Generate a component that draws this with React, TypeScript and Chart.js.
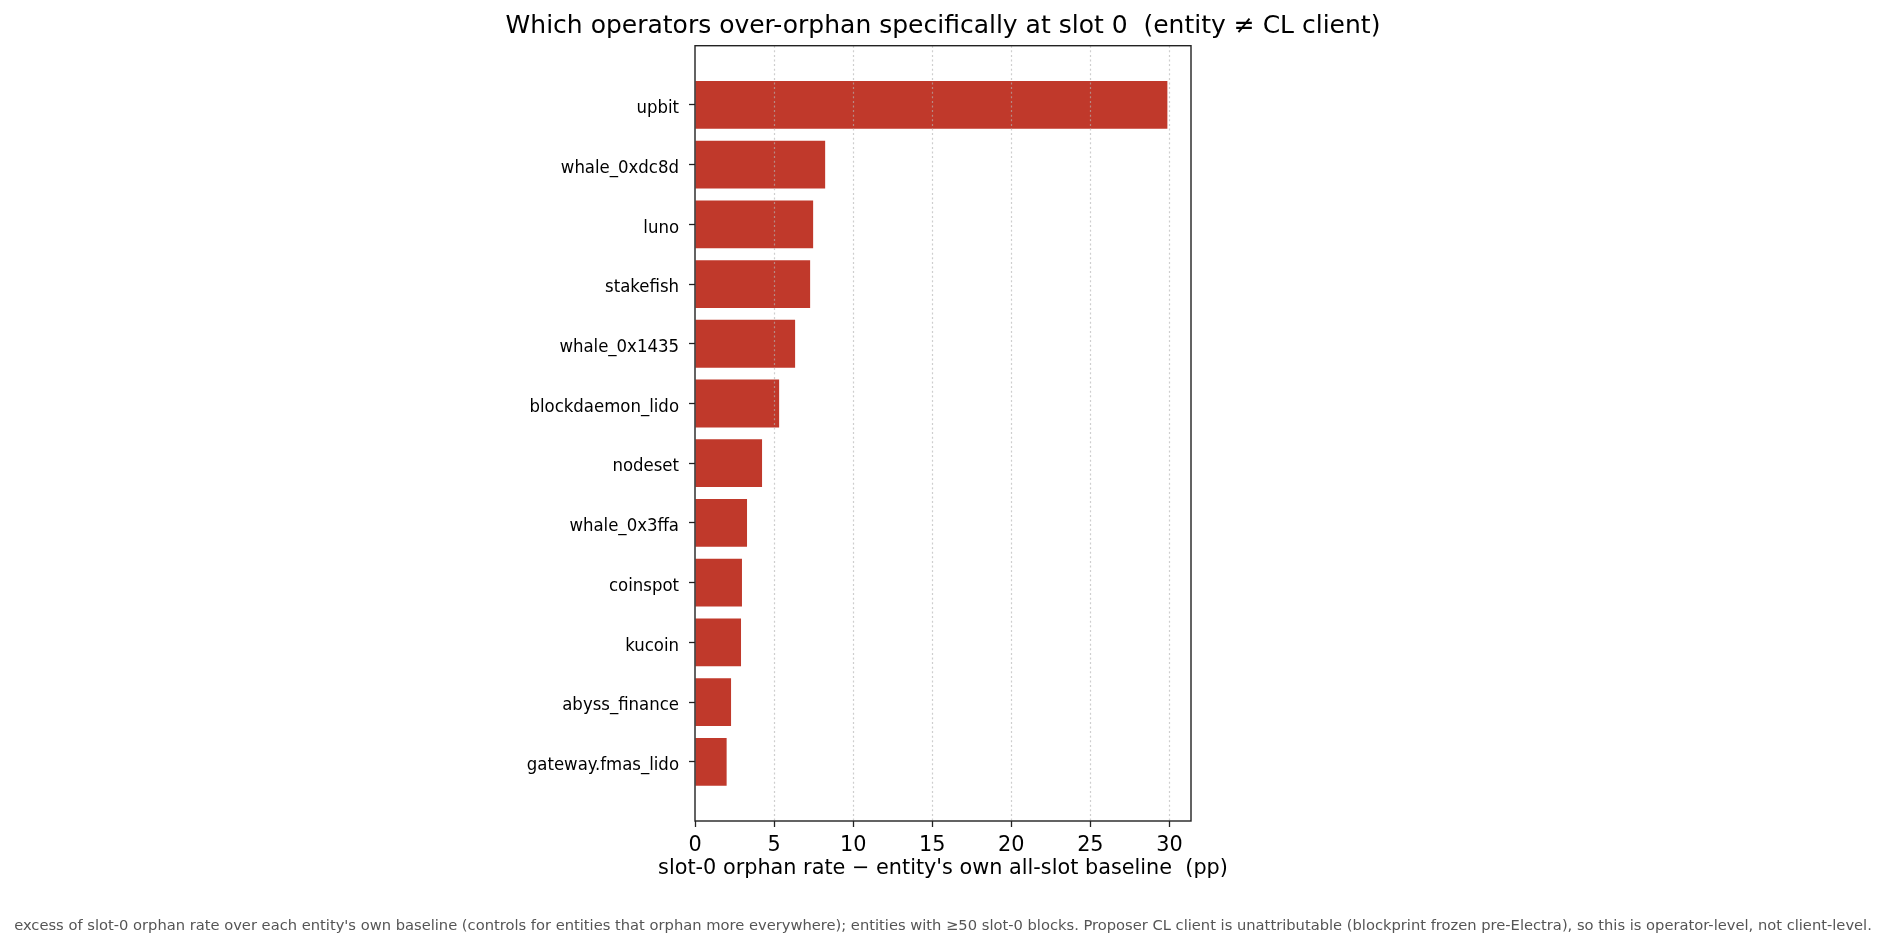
import { useEffect, useRef } from "react";
import { Chart, registerables } from "chart.js";

Chart.register(...registerables);

const entities = [
  "upbit",
  "whale_0xdc8d",
  "luno",
  "stakefish",
  "whale_0x1435",
  "blockdaemon_lido",
  "nodeset",
  "whale_0x3ffa",
  "coinspot",
  "kucoin",
  "abyss_finance",
  "gateway.fmas_lido",
];
const excessPP = [29.87, 8.23, 7.47, 7.28, 6.33, 5.32, 4.24, 3.29, 2.97, 2.91, 2.28, 2.0];
const xTicks = [0, 5, 10, 15, 20, 25, 30];

const TITLE = "Which operators over-orphan specifically at slot 0  (entity \u2260 CL client)";
const X_LABEL = "slot-0 orphan rate \u2212 entity's own all-slot baseline  (pp)";
const FOOTNOTE =
  "excess of slot-0 orphan rate over each entity's own baseline (controls for entities that orphan more everywhere); entities with \u226550 slot-0 blocks. Proposer CL client is unattributable (blockprint frozen pre-Electra), so this is operator-level, not client-level.";

const FONT = "'DejaVu Sans', sans-serif";
const FONT_COND = "'DejaVu Sans Condensed', 'DejaVu Sans', sans-serif";
const W = 1886;
const H = 948;

const App: React.FC = () => {
  const canvasRef = useRef<HTMLCanvasElement | null>(null);

  useEffect(() => {
    if (!canvasRef.current) return;
    const ctx = canvasRef.current.getContext("2d");
    if (!ctx) return;

    const xMax = Math.max(...excessPP) * 1.05;

    const decorations = {
      id: "decorations",
      afterDatasetsDraw(chart: Chart) {
        const c = chart.ctx;
        const area = chart.chartArea;
        const xs = chart.scales.x;
        // dotted vertical grid, drawn above the bars
        c.save();
        c.strokeStyle = "rgba(180,180,180,0.65)";
        c.lineWidth = 1.2;
        c.setLineDash([2, 2.6]);
        xTicks.forEach((t) => {
          if (t === 0) return;
          const px = Math.round(xs.getPixelForValue(t)) + 0.5;
          c.beginPath();
          c.moveTo(px, area.top);
          c.lineTo(px, area.bottom);
          c.stroke();
        });
        c.restore();
      },
      afterDraw(chart: Chart) {
        const c = chart.ctx;
        const area = chart.chartArea;
        c.save();
        c.strokeStyle = "#222";
        c.lineWidth = 1.4;
        c.strokeRect(area.left, area.top, area.right - area.left, area.bottom - area.top);

        const cx = (area.left + area.right) / 2;
        c.fillStyle = "#000";
        c.textAlign = "center";
        c.textBaseline = "alphabetic";
        c.font = `25px ${FONT}`;
        c.fillText(TITLE, cx, 32.5);

        c.font = `20.8px ${FONT}`;
        c.fillText(X_LABEL, cx, 874);

        c.fillStyle = "#555";
        c.font = `14.7px ${FONT}`;
        c.fillText(FOOTNOTE, W / 2, 930);
        c.restore();
      },
    };

    const chartInstance = new Chart(ctx, {
      type: "bar",
      data: {
        datasets: [
          {
            data: excessPP.map((v, i) => ({ x: v, y: i })),
            backgroundColor: "#c0392b",
            borderWidth: 0,
            categoryPercentage: 1,
            barPercentage: 0.8,
          },
        ],
      },
      options: {
        indexAxis: "y",
        animation: false,
        responsive: false,
        maintainAspectRatio: false,
        layout: { padding: { top: 45.7, right: W - 1191, bottom: 0, left: 0 } },
        plugins: {
          legend: { display: false },
          tooltip: { enabled: false },
          title: { display: false },
        },
        scales: {
          x: {
            type: "linear",
            min: 0,
            max: xMax,
            offset: false,
            afterBuildTicks: (scale: any) => {
              scale.ticks = xTicks.map((v) => ({ value: v }));
            },
            afterFit: (scale: any) => {
              scale.height = H - 821;
            },
            ticks: {
              color: "#000",
              padding: 6,
              font: { family: FONT, size: 20.8 },
              maxRotation: 0,
            },
            grid: {
              display: true,
              offset: false,
              drawOnChartArea: false,
              drawTicks: true,
              tickLength: 6,
              tickColor: "#222",
              tickWidth: 1.3,
            },
            border: { display: false },
          },
          y: {
            type: "linear",
            reverse: true,
            offset: false,
            min: -0.99,
            max: entities.length - 1 + 0.99,
            afterBuildTicks: (scale: any) => {
              scale.ticks = entities.map((_, i) => ({ value: i }));
            },
            afterFit: (scale: any) => {
              scale.width = 695;
            },
            ticks: {
              color: "#000",
              padding: 10,
              labelOffset: 3.5,
              font: { family: FONT_COND, size: 18.4 },
              callback: (v: any) => entities[Math.round(Number(v))] ?? "",
            },
            grid: {
              display: true,
              offset: false,
              drawOnChartArea: false,
              drawTicks: true,
              tickLength: 6,
              tickColor: "#222",
              tickWidth: 1.3,
            },
            border: { display: false },
          },
        },
      },
      plugins: [decorations],
    });

    return () => {
      chartInstance.destroy();
    };
  }, []);

  return (
    <div style={{ position: "fixed", left: 0, top: 0, width: W, height: H, background: "#fff" }}>
      <canvas ref={canvasRef} width={W} height={H} style={{ width: W, height: H }}></canvas>
    </div>
  );
};

export default App;
